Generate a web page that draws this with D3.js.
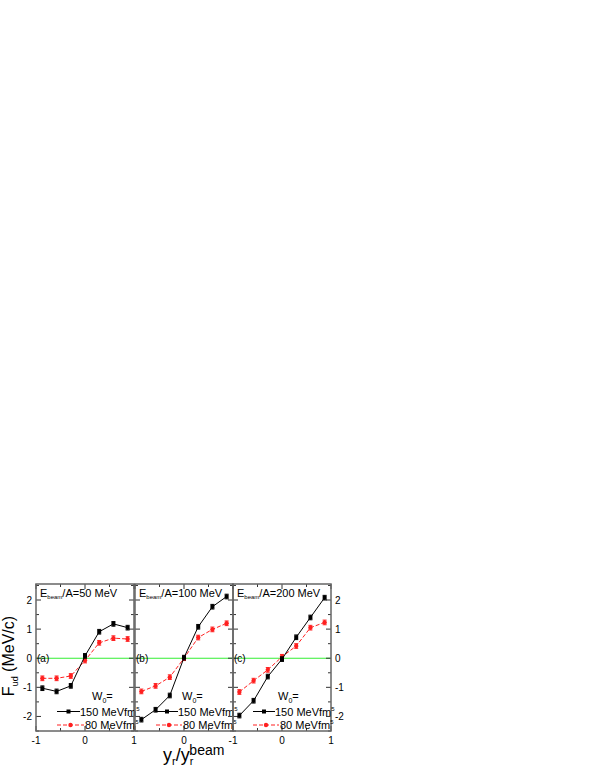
<!DOCTYPE html>
<html>
<head>
<meta charset="utf-8">
<script src="https://cdn.jsdelivr.net/npm/d3@7"></script>
<style>
  body { margin: 0; background: #fff; }
  text { font-family: "Liberation Sans", Arial, sans-serif; }
</style>
</head>
<body>
<script>
// data
var xVals = [-0.87, -0.58, -0.29, 0, 0.29, 0.58, 0.87];
var energies = [50, 100, 200];
var panelTags = ["(a)", "(b)", "(c)"];

var w150a = [-1.03, -1.14, -0.95, 0.08, 0.91, 1.18, 1.05];
var w80a  = [-0.69, -0.69, -0.61, -0.08, 0.53, 0.69, 0.66];
var w150b = [-2.11, -1.77, -1.28, 0.02, 1.08, 1.77, 2.12];
var w80b  = [-1.14, -0.95, -0.65, 0.0, 0.71, 0.99, 1.2];
var w150c = [-1.97, -1.46, -0.63, -0.03, 0.72, 1.4, 2.08];
var w80c  = [-1.16, -0.77, -0.4, 0.05, 0.42, 1.05, 1.23];
var errBar = 0.08;

var xTickLabels = [["-1", "0", "1"], ["0"], ["-1", "0", "1"]];
var yTicks = [-2, -1, 0, 1, 2];

var black150 = [w150a, w150b, w150c];
var red80 = [w80a, w80b, w80c];

// layout
var width = 595, height = 770;
var plotTop = 584, plotBottom = 731;
var panelLefts = [36, 135, 233];
var panelW = 98;

var svg = d3.select("body").append("svg")
    .attr("width", width)
    .attr("height", height);

var y = d3.scaleLinear().domain([-2.5, 2.55]).range([plotBottom, plotTop]);

var legendOff = [{w: 56, line: 21, txt: 44}, {w: 47, line: 21, txt: 43}, {w: 45, line: 20, txt: 42}];

panelTags.forEach(function(tag, p) {
    var left = panelLefts[p];
    var x = d3.scaleLinear().domain([-1, 1]).range([left, left + panelW]);
    var g = svg.append("g");

    // zero line
    g.append("line")
        .attr("x1", left).attr("x2", left + panelW)
        .attr("y1", y(0)).attr("y2", y(0))
        .attr("stroke", "#33ee33").attr("stroke-width", 1.2);

    // ticks inward, all four sides
    var xt = [-1, -0.5, 0, 0.5, 1];
    xt.forEach(function(t) {
        var len = (t % 1 === 0) ? 5 : 3;
        g.append("line").attr("x1", x(t)).attr("x2", x(t))
            .attr("y1", plotBottom).attr("y2", plotBottom - len).attr("stroke", "#333");
        g.append("line").attr("x1", x(t)).attr("x2", x(t))
            .attr("y1", plotTop).attr("y2", plotTop + len).attr("stroke", "#333");
    });
    var yt = [-2.5, -2, -1.5, -1, -0.5, 0, 0.5, 1, 1.5, 2, 2.5];
    yt.forEach(function(t) {
        var len = (t % 1 === 0) ? 5 : 3;
        g.append("line").attr("x1", left).attr("x2", left + len)
            .attr("y1", y(t)).attr("y2", y(t)).attr("stroke", "#333");
        g.append("line").attr("x1", left + panelW).attr("x2", left + panelW - len)
            .attr("y1", y(t)).attr("y2", y(t)).attr("stroke", "#333");
    });

    // frame
    g.append("rect")
        .attr("x", left).attr("y", plotTop)
        .attr("width", panelW).attr("height", plotBottom - plotTop)
        .attr("fill", "none").attr("stroke", "#666").attr("stroke-width", 1.5);

    // x tick labels
    g.selectAll(".xl").data(xTickLabels[p]).enter().append("text")
        .attr("x", function(d) { return x(+d); })
        .attr("y", plotBottom + 13)
        .attr("text-anchor", "middle")
        .style("font-size", "10px")
        .text(function(d) { return d; });

    var line = d3.line().x(function(d, i) { return x(xVals[i]); }).y(function(d) { return y(d); });

    // red series (80 MeVfm^5)
    g.append("path").datum(red80[p])
        .attr("d", line).attr("fill", "none")
        .attr("stroke", "#ff2020").attr("stroke-width", 1)
        .attr("stroke-dasharray", "4,2");
    red80[p].forEach(function(v, i) {
        g.append("line").attr("x1", x(xVals[i])).attr("x2", x(xVals[i]))
            .attr("y1", y(v - errBar)).attr("y2", y(v + errBar)).attr("stroke", "#ff2020");
        [v - errBar, v + errBar].forEach(function(e) {
            g.append("line").attr("x1", x(xVals[i]) - 2).attr("x2", x(xVals[i]) + 2)
                .attr("y1", y(e)).attr("y2", y(e)).attr("stroke", "#ff2020");
        });
        g.append("circle").attr("cx", x(xVals[i])).attr("cy", y(v)).attr("r", 2.2).attr("fill", "#ff2020");
    });

    // black series (150 MeVfm^5)
    g.append("path").datum(black150[p])
        .attr("d", line).attr("fill", "none")
        .attr("stroke", "#000").attr("stroke-width", 1);
    black150[p].forEach(function(v, i) {
        g.append("line").attr("x1", x(xVals[i])).attr("x2", x(xVals[i]))
            .attr("y1", y(v - errBar)).attr("y2", y(v + errBar)).attr("stroke", "#000");
        [v - errBar, v + errBar].forEach(function(e) {
            g.append("line").attr("x1", x(xVals[i]) - 2).attr("x2", x(xVals[i]) + 2)
                .attr("y1", y(e)).attr("y2", y(e)).attr("stroke", "#000");
        });
        g.append("rect").attr("x", x(xVals[i]) - 2).attr("y", y(v) - 2)
            .attr("width", 4).attr("height", 4).attr("fill", "#000");
    });

    // panel tag
    g.append("text").attr("x", left + 1).attr("y", y(0) + 4)
        .style("font-size", "10px").text(tag);

    // energy title
    var t = g.append("text").attr("x", left + 4).attr("y", plotTop + 13).style("font-size", "11px");
    t.append("tspan").text("E");
    t.append("tspan").attr("dy", 2).style("font-size", "6px").text("beam");
    t.append("tspan").attr("dy", -2).text("/A=" + energies[p] + " MeV");

    // legend
    var lo = legendOff[p];
    var w0 = g.append("text").attr("x", left + lo.w).attr("y", 700).style("font-size", "11px");
    w0.append("tspan").text("W");
    w0.append("tspan").attr("dy", 3).style("font-size", "7px").text("0");
    w0.append("tspan").attr("dy", -3).text("=");

    g.append("line").attr("x1", left + lo.line).attr("x2", left + lo.txt)
        .attr("y1", 711.5).attr("y2", 711.5).attr("stroke", "#000");
    g.append("rect").attr("x", left + (lo.line + lo.txt) / 2 - 2).attr("y", 709.5)
        .attr("width", 4).attr("height", 4).attr("fill", "#000");
    var l1 = g.append("text").attr("x", left + lo.txt).attr("y", 715.5).style("font-size", "11px");
    l1.append("tspan").text("150 MeVfm");
    l1.append("tspan").attr("dy", -5).style("font-size", "6px").text("5");

    g.append("line").attr("x1", left + lo.line).attr("x2", left + lo.txt + 4)
        .attr("y1", 725).attr("y2", 725).attr("stroke", "#ff2020").attr("stroke-dasharray", "4,2");
    g.append("circle").attr("cx", left + (lo.line + lo.txt + 4) / 2).attr("cy", 725)
        .attr("r", 2.2).attr("fill", "#ff2020");
    var l2 = g.append("text").attr("x", left + lo.txt + 5).attr("y", 729).style("font-size", "11px");
    l2.append("tspan").text("80 MeVfm");
    l2.append("tspan").attr("dy", -5).style("font-size", "6px").text("5");
});

// y tick labels left and right
svg.selectAll(".yl").data(yTicks).enter().append("text")
    .attr("x", 32).attr("y", function(d) { return y(d) + 3.5; })
    .attr("text-anchor", "end").style("font-size", "10px")
    .text(function(d) { return d; });
svg.selectAll(".yr").data(yTicks).enter().append("text")
    .attr("x", panelLefts[2] + panelW + 4).attr("y", function(d) { return y(d) + 3.5; })
    .attr("text-anchor", "start").style("font-size", "10px")
    .text(function(d) { return d; });

// axis titles
var yTitle = svg.append("text")
    .attr("transform", "translate(14,656) rotate(-90)")
    .attr("text-anchor", "middle").style("font-size", "16px");
yTitle.append("tspan").text("F");
yTitle.append("tspan").attr("dy", 4).style("font-size", "9px").text("ud");
yTitle.append("tspan").attr("dy", -4).text(" (MeV/c)");

var xTitle = svg.append("text")
    .attr("x", 163).attr("y", 761)
    .attr("text-anchor", "start").style("font-size", "18px");
xTitle.append("tspan").text("y");
xTitle.append("tspan").attr("dy", 4).style("font-size", "11px").text("r");
xTitle.append("tspan").attr("dy", -4).text("/y");
xTitle.append("tspan").attr("dy", 4).style("font-size", "11px").text("r");
xTitle.append("tspan").attr("dy", -10).attr("dx", -4).style("font-size", "14px").text("beam");
</script>
</body>
</html>
